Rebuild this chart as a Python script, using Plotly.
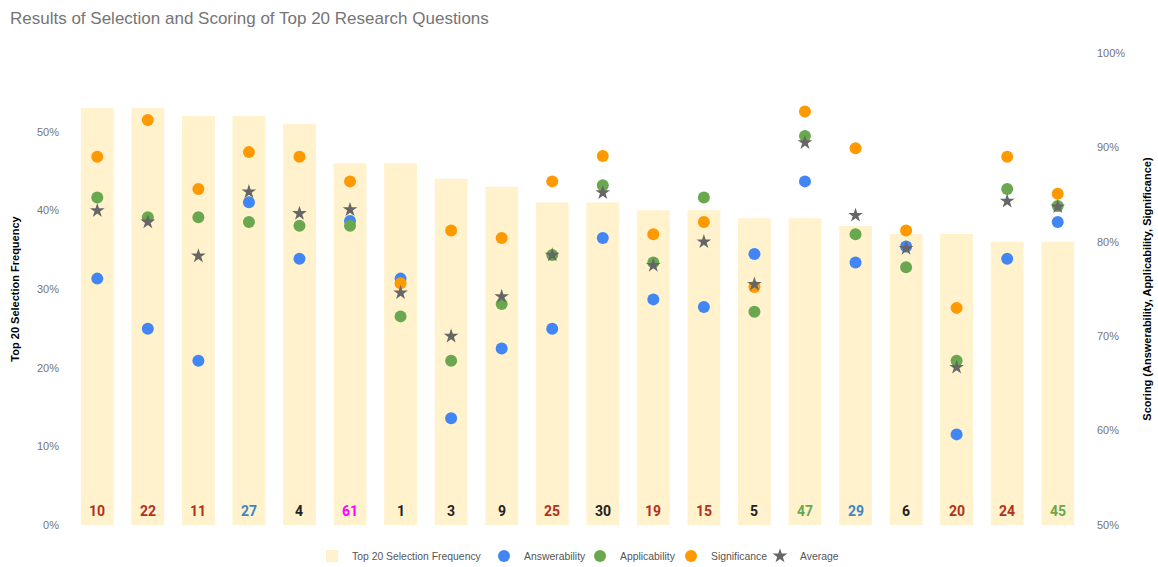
import plotly.graph_objects as go

question_ids = ["10", "22", "11", "27", "4", "61", "1", "3", "9", "25",
                "30", "19", "15", "5", "47", "29", "6", "20", "24", "45"]
label_colors = ["#b3301c", "#b3301c", "#b3301c", "#3d85c6", "#222222", "#ff00ff",
                "#222222", "#222222", "#222222", "#b3301c", "#222222", "#b3301c",
                "#b3301c", "#222222", "#6aa84f", "#3d85c6", "#222222", "#b3301c",
                "#b3301c", "#6aa84f"]
selection_freq = [53, 53, 52, 52, 51, 46, 46, 44, 43, 41,
                  41, 40, 40, 39, 39, 38, 37, 37, 36, 36]
answerability = [76.1, 70.8, 67.4, 84.2, 78.2, 82.2, 76.1, 61.3, 68.7, 70.8,
                 80.4, 73.9, 73.1, 78.7, 86.4, 77.8, 79.5, 59.6, 78.2, 82.1]
applicability = [84.7, 82.6, 82.6, 82.1, 81.7, 81.7, 72.1, 67.4, 73.4, 78.6,
                 86.0, 77.8, 84.7, 72.6, 91.2, 80.8, 77.3, 67.4, 85.6, 83.8]
significance = [89.0, 92.9, 85.6, 89.5, 89.0, 86.4, 75.6, 81.2, 80.4, 86.4,
                89.1, 80.8, 82.1, 75.2, 93.8, 89.9, 81.2, 73.0, 89.0, 85.1]
average = [83.3, 82.1, 78.5, 85.3, 83.0, 83.4, 74.6, 70.0, 74.2, 78.6,
           85.2, 77.5, 80.0, 75.5, 90.5, 82.8, 79.3, 66.7, 84.3, 83.7]

left_ticks = [0, 10, 20, 30, 40, 50]
left_tick_text = ["0%", "10%", "20%", "30%", "40%", "50%"]
right_ticks = [50, 60, 70, 80, 90, 100]
right_tick_text = ["50%", "60%", "70%", "80%", "90%", "100%"]

FONT = "Liberation Sans, Arial, sans-serif"
GRAY = "#757575"
W, H = 1158, 567
ML, MR, MT, MB = 72, 75, 53, 42
PW = W - ML - MR

# legend entry positions (pixel x of each legend box's left edge)
legend_px = [312, 484, 580, 671, 760]
legend_ids = ["legend", "legend2", "legend3", "legend4", "legend5"]

fig = go.Figure()
fig.add_trace(go.Bar(
    x=question_ids, y=selection_freq, name="Top 20 Selection Frequency",
    marker=dict(color="#fff2cc", line=dict(width=0)),
    yaxis="y", hoverinfo="skip", legend=legend_ids[0],
))
series = [
    ("Answerability", answerability, "#4285f4", "circle", 12),
    ("Applicability", applicability, "#6aa84f", "circle", 12),
    ("Significance", significance, "#ff9900", "circle", 12),
    ("Average", average, "#666666", "star", 11),
]
for i, (name, vals, col, sym, sz) in enumerate(series):
    fig.add_trace(go.Scatter(
        x=question_ids, y=vals, name=name, mode="markers", yaxis="y2",
        marker=dict(color=col, symbol=sym, size=sz, line=dict(width=0)),
        legend=legend_ids[i + 1],
    ))

# question-number labels at the foot of each bar (category index on the x axis)
for idx, (qid, col) in enumerate(zip(question_ids, label_colors)):
    fig.add_annotation(
        x=idx, y=0, xref="x", yref="y", text=f"<b>{qid}</b>", showarrow=False,
        yanchor="bottom", yshift=4,
        font=dict(family="Roboto, sans-serif", size=14, color=col),
    )

legend_layout = {}
for lid, px in zip(legend_ids, legend_px):
    legend_layout[lid] = dict(
        orientation="h", x=(px - ML) / PW, xanchor="left",
        y=-(556 - (H - MB)) / (H - MT - MB), yanchor="middle",
        font=dict(size=10.4, color="#555555"), itemwidth=30,
        bgcolor="rgba(0,0,0,0)", borderwidth=0,
    )

fig.update_layout(
    template="none",
    width=W, height=H,
    margin=dict(l=ML, r=MR, t=MT, b=MB, autoexpand=False),
    paper_bgcolor="white", plot_bgcolor="white",
    font=dict(family=FONT, color=GRAY, size=11),
    title=dict(text="Results of Selection and Scoring of Top 20 Research Questions",
               font=dict(family=FONT, size=17, color=GRAY),
               x=10 / W, xref="container", xanchor="left",
               y=1 - 18 / H, yref="container", yanchor="middle"),
    bargap=0.35,
    showlegend=True,
    **legend_layout,
    xaxis=dict(type="category", categoryorder="array", categoryarray=question_ids,
               range=[-0.5, len(question_ids) - 0.5],
               showticklabels=False, showgrid=False, zeroline=False, showline=False,
               ticks="", automargin=False),
    yaxis=dict(range=[0, 60], tickmode="array", tickvals=left_ticks, ticktext=left_tick_text,
               showgrid=False, zeroline=False, showline=False, ticks="",
               ticklabelstandoff=12,
               color=GRAY, tickfont=dict(size=11, color=GRAY), automargin=False,
               title=dict(text="<b>Top 20 Selection Frequency</b>",
                          font=dict(size=11, color="#000000"), standoff=15)),
    yaxis2=dict(range=[50, 100], tickmode="array", tickvals=right_ticks, ticktext=right_tick_text,
                overlaying="y", side="right", ticks="",
                showgrid=False, zeroline=False, showline=False,
                ticklabelstandoff=13,
                color=GRAY, tickfont=dict(size=11, color=GRAY), automargin=False,
                title=dict(text="<b>Scoring (Answerability, Applicability, Significance)</b>",
                           font=dict(size=11, color="#000000"), standoff=18)),
)

fig.write_html("out.html", config={"displayModeBar": False},
               post_script="document.body.style.margin='0';")
